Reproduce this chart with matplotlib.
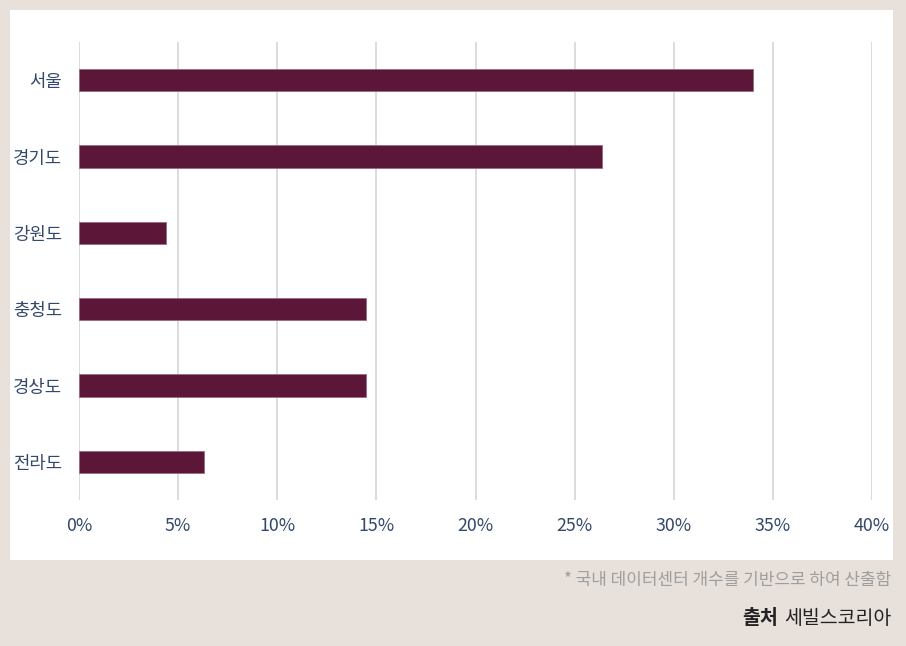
import matplotlib
matplotlib.use("Agg")
import matplotlib.pyplot as plt
from matplotlib.patches import Rectangle
from matplotlib.ticker import FuncFormatter, MultipleLocator

plt.rcParams['font.family'] = ['Noto Sans CJK KR', 'DejaVu Sans']

regions = ["서울", "경기도", "강원도", "충청도", "경상도", "전라도"]
shares = [34.0, 26.4, 4.4, 14.5, 14.5, 6.3]
footnote = "* 국내 데이터센터 개수를 기반으로 하여 산출함"
source_label = "출처"
source_name = "세빌스코리아"

W, H = 906, 646
fig = plt.figure(figsize=(W / 100, H / 100), dpi=100)
fig.patch.set_facecolor("#E8E0DA")
fig.patches.append(Rectangle((10 / W, 1 - 560 / H), 883 / W, 550 / H,
                             transform=fig.transFigure, facecolor="white",
                             edgecolor="none", zorder=-5))

ax = fig.add_axes([79 / W, 1 - 500 / H, 793 / W, 458 / H])
ax.set_facecolor("none")
ypos = list(range(len(regions)))
ax.barh(ypos, shares, height=0.29, color="#5C1738", edgecolor="#9A6A82",
        linewidth=0.6, zorder=3)
ax.set_ylim(len(regions) - 0.5, -0.5)
ax.set_xlim(0, 40)
ax.xaxis.set_major_locator(MultipleLocator(5))
ax.xaxis.set_major_formatter(FuncFormatter(lambda v, p: f"{v:.0f}%"))
ax.set_yticks(ypos)
ax.set_yticklabels(regions)
ax.grid(axis="x", color="#D9D9D9", linewidth=1.3, zorder=0)
for s in ax.spines.values():
    s.set_visible(False)
ax.tick_params(axis="both", length=0, labelsize=12.8, colors="#34496A")
ax.tick_params(axis="x", pad=12)
ax.tick_params(axis="y", pad=12)

fig.text(891 / W, 1 - 580 / H, footnote, ha="right", va="center",
         fontsize=12.2, color="#9E9E9E")
t2 = fig.text(891 / W, 1 - 619 / H, source_name, ha="right", va="center",
              fontsize=14, color="#222222", fontweight="medium")
fig.canvas.draw()
bb = t2.get_window_extent()
fig.text((bb.x0 - 6) / W, 1 - 619 / H, source_label, ha="right", va="center",
         fontsize=14, color="#222222", fontweight="bold")

fig.savefig("out.png", dpi=100, facecolor=fig.get_facecolor())
